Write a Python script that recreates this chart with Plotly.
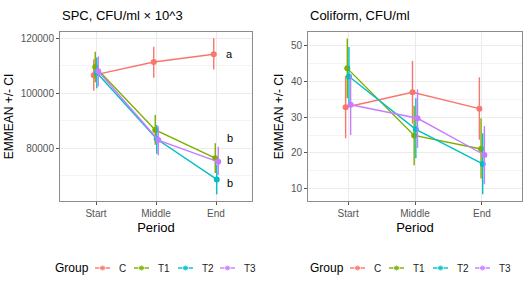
import plotly.graph_objects as go

periods = ["Start", "Middle", "End"]
groups = ["C", "T1", "T2", "T3"]
colors = {"C": "#F8766D", "T1": "#7CAE00", "T2": "#00BFC4", "T3": "#C77CFF"}
dodge = {"C": -0.0375, "T1": -0.0125, "T2": 0.0125, "T3": 0.0375}

# SPC, CFU/ml x 10^3
spc_mean = {
    "C": [106600, 111400, 114200],
    "T1": [109600, 86700, 76400],
    "T2": [107500, 83400, 68700],
    "T3": [108000, 83000, 75100],
}
spc_lo = {
    "C": [100950, 105700, 108700],
    "T1": [104000, 81300, 71000],
    "T2": [101800, 78000, 63300],
    "T3": [102500, 77500, 70300],
}
spc_hi = {
    "C": [112400, 116950, 120000],
    "T1": [115100, 92100, 81800],
    "T2": [113000, 88500, 74000],
    "T3": [113400, 88000, 80600],
}
spc_letters = ["a", "b", "b", "b"]
spc_letter_y = [114200, 83700, 75800, 67300]

# Coliform, CFU/ml
col_mean = {
    "C": [32.8, 37.0, 32.4],
    "T1": [43.7, 24.9, 21.1],
    "T2": [41.4, 26.6, 16.9],
    "T3": [33.5, 29.7, 19.4],
}
col_lo = {
    "C": [24.1, 28.2, 23.7],
    "T1": [35.3, 16.5, 12.8],
    "T2": [33.0, 18.5, 8.4],
    "T3": [25.0, 21.4, 11.2],
}
col_hi = {
    "C": [41.6, 45.8, 41.2],
    "T1": [52.1, 33.2, 29.7],
    "T2": [49.7, 35.3, 25.5],
    "T3": [42.0, 37.8, 27.5],
}

FONT = "Liberation Sans, Arial, sans-serif"
W, H = 529, 281
fig = go.Figure()

def add_panel(mean, lo, hi, xa, ya):
    for g in groups:
        xs = [i + dodge[g] for i in range(len(periods))]
        fig.add_trace(go.Scatter(
            x=xs, y=mean[g], mode="lines+markers", name=g, showlegend=False,
            line=dict(color=colors[g], width=1.4),
            marker=dict(color=colors[g], size=6),
            error_y=dict(type="data", symmetric=False,
                         array=[h - m for h, m in zip(hi[g], mean[g])],
                         arrayminus=[m - l for m, l in zip(mean[g], lo[g])],
                         color=colors[g], thickness=1.4, width=0),
            xaxis=xa, yaxis=ya,
        ))

add_panel(spc_mean, spc_lo, spc_hi, "x", "y")
add_panel(col_mean, col_lo, col_hi, "x2", "y2")

for lt, ly in zip(spc_letters, spc_letter_y):
    fig.add_annotation(x=2.23, y=ly, xref="x", yref="y", text=lt, showarrow=False,
                       font=dict(size=11, color="black", family=FONT))

# ---- legends (drawn on a pixel-unit overlay axis in the bottom strip) ----
LEG_STRIP = 0.12
leg_starts = [53, 308]              # x of "Group" text for each panel legend
key_offsets = [42, 81, 125, 167]    # symbol start offsets from "Group"
LEG_Y = 268
for x0 in leg_starts:
    fig.add_annotation(x=x0, y=LEG_Y, xref="x3", yref="y3", text="Group", showarrow=False,
                       xanchor="left", yanchor="middle",
                       font=dict(size=12, color="black", family=FONT))
    for g, off in zip(groups, key_offsets):
        sx = x0 + off
        fig.add_trace(go.Scatter(
            x=[sx, sx + 7.5, sx + 15], y=[LEG_Y] * 3, mode="lines+markers", showlegend=False,
            line=dict(color=colors[g], width=1.4),
            marker=dict(color=colors[g], size=[0, 6, 0]),
            hoverinfo="skip", xaxis="x3", yaxis="y3",
        ))
        fig.add_annotation(x=sx + 22, y=LEG_Y, xref="x3", yref="y3", text=g, showarrow=False,
                           xanchor="left", yanchor="middle",
                           font=dict(size=10, color="#222", family=FONT))

ytop, ybot = 1 - 32 / H, 1 - 201 / H

axis_common = dict(showline=True, linecolor="#8c8c8c", linewidth=1, mirror=True,
                   ticks="outside", ticklen=3, tickcolor="#555", automargin=False,
                   gridcolor="#ebebeb", gridwidth=1, zeroline=False,
                   tickfont=dict(size=10, color="#555", family=FONT))

xcommon = dict(axis_common, range=[-0.6, 2.6], tickvals=[0, 1, 2], ticktext=periods,
               title=dict(text="Period", font=dict(size=13, color="black", family=FONT), standoff=4))

hidden = dict(visible=False, showgrid=False, zeroline=False, fixedrange=True, automargin=False)

fig.update_layout(
    width=W, height=H, margin=dict(l=0, r=0, t=0, b=0),
    paper_bgcolor="white", plot_bgcolor="white",
    font=dict(family=FONT), showlegend=False,
    xaxis=dict(xcommon, domain=[60 / W, 252 / W], anchor="y"),
    yaxis=dict(axis_common, domain=[ybot, ytop], anchor="x", range=[60840, 122300],
               tickvals=[80000, 100000, 120000], tickformat="d",
               minor=dict(showgrid=True, gridcolor="#f3f3f3", tickvals=[70000, 90000, 110000], ticks=""),
               title=dict(text="EMMEAN +/- CI", font=dict(size=12, color="black", family=FONT), standoff=4)),
    xaxis2=dict(xcommon, domain=[308 / W, 522 / W], anchor="y2"),
    yaxis2=dict(axis_common, domain=[ybot, ytop], anchor="x2", range=[6.5, 53.9],
                tickvals=[10, 20, 30, 40, 50],
                minor=dict(showgrid=True, gridcolor="#f3f3f3", tickvals=[15, 25, 35, 45], ticks=""),
                title=dict(text="EMMEAN +/- CI", font=dict(size=12, color="black", family=FONT), standoff=4)),
    xaxis3=dict(hidden, domain=[0, 1], range=[0, W], anchor="y3"),
    yaxis3=dict(hidden, domain=[0, LEG_STRIP], range=[H, H - LEG_STRIP * H], anchor="x3"),
)

fig.add_annotation(x=60 / W, y=1 - 15 / H, xref="paper", yref="paper", xanchor="left", yanchor="middle",
                   text="SPC, CFU/ml × 10^3", showarrow=False,
                   font=dict(size=13, color="black", family=FONT))
fig.add_annotation(x=308 / W, y=1 - 15 / H, xref="paper", yref="paper", xanchor="left", yanchor="middle",
                   text="Coliform, CFU/ml", showarrow=False,
                   font=dict(size=13, color="black", family=FONT))

fig.write_html("out.html")
